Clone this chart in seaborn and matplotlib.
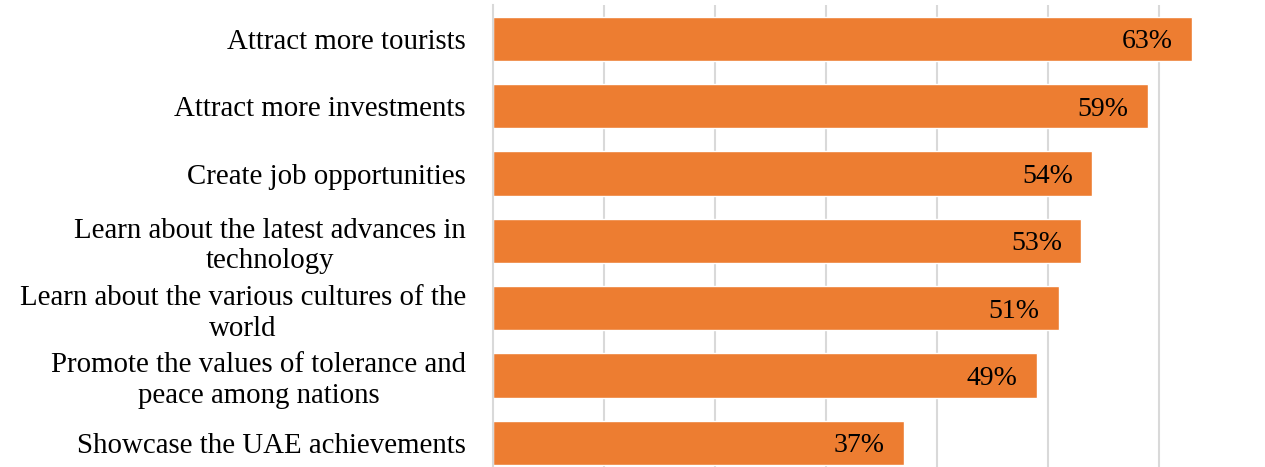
import matplotlib
matplotlib.use("Agg")
import matplotlib.pyplot as plt
import seaborn as sns
import pandas as pd

categories = [
    "Attract more tourists",
    "Attract more investments",
    "Create job opportunities",
    "Learn about the latest advances in\ntechnology",
    "Learn about the various cultures of the\nworld",
    "Promote the values of tolerance and\npeace among nations",
    "Showcase the UAE achievements",
]
values = [63, 59, 54, 53, 51, 49, 37]

df = pd.DataFrame({"reason": categories, "share": values})

sns.set_theme(style="white")
plt.rcParams["font.family"] = ["Liberation Serif", "DejaVu Serif"]

fig = plt.figure(figsize=(12.65, 4.67), dpi=100)
W, H = 1265, 467
left, right, top, bottom = 493, 1270, 5.3, 476.4
ax = fig.add_axes([left / W, (H - bottom) / H, (right - left) / W, (bottom - top) / H])

bar_color = "#ED7D31"
sns.barplot(data=df, y="reason", x="share", orient="h", color=bar_color,
            saturation=1, width=0.658, ax=ax, zorder=2)

ax.set_xlim(0, 70)
ax.set_ylim(6.5, -0.5)
ax.set_xticks(range(10, 71, 10))
ax.xaxis.grid(True, color="#D9D9D9", linewidth=1.5, zorder=0)
ax.yaxis.grid(False)
ax.set_axisbelow(True)
ax.tick_params(axis="x", bottom=False, labelbottom=False)
ax.tick_params(axis="y", left=False, pad=13.5, labelsize=20.8, labelcolor="black")
for lbl in ax.get_yticklabels():
    lbl.set_horizontalalignment("right")
    lbl.set_multialignment("center")
    lbl.set_linespacing(1.22)
ax.set_xlabel("")
ax.set_ylabel("")
for side in ["top", "right", "bottom"]:
    ax.spines[side].set_visible(False)
ax.spines["left"].set_color("#D9D9D9")
ax.spines["left"].set_linewidth(1.5)

for container in ax.containers:
    ax.bar_label(container, labels=[f"{v}%" for v in values], padding=-14,
                 label_type="edge", fontsize=20, color="black")
for t in ax.texts:
    t.set_horizontalalignment("right")
    t.set_verticalalignment("center_baseline")

fig.savefig("out.png", dpi=100)
